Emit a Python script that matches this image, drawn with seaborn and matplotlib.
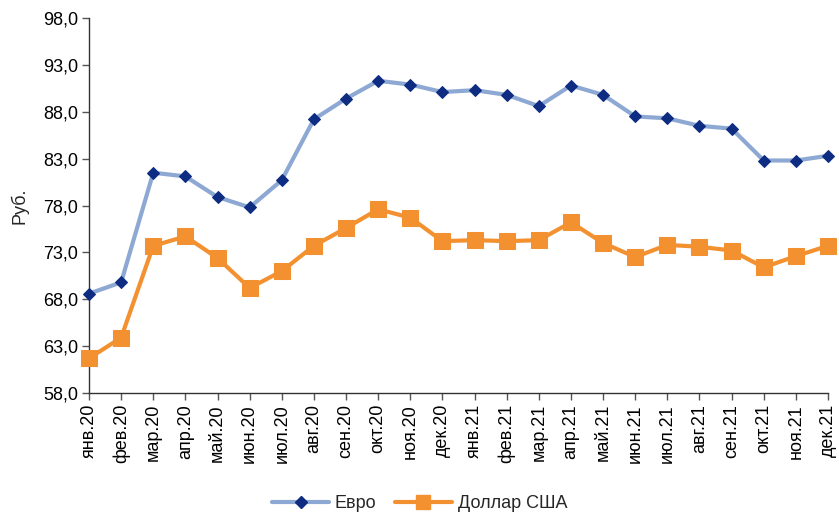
import matplotlib
matplotlib.use("Agg")
import matplotlib.pyplot as plt
import seaborn as sns
import pandas as pd
import numpy as np
from matplotlib import font_manager
from matplotlib.lines import Line2D

months = ["янв.20", "фев.20", "мар.20", "апр.20", "май.20", "июн.20", "июл.20", "авг.20",
          "сен.20", "окт.20", "ноя.20", "дек.20", "янв.21", "фев.21", "мар.21", "апр.21",
          "май.21", "июн.21", "июл.21", "авг.21", "сен.21", "окт.21", "ноя.21", "дек.21"]
euro = [68.6, 69.8, 81.5, 81.1, 78.9, 77.8, 80.7, 87.2, 89.4, 91.3, 90.9, 90.1,
        90.3, 89.8, 88.6, 90.8, 89.8, 87.5, 87.3, 86.5, 86.2, 82.8, 82.8, 83.3]
usd = [61.7, 63.9, 73.7, 74.7, 72.4, 69.2, 71.0, 73.7, 75.6, 77.6, 76.7, 74.2,
       74.3, 74.2, 74.3, 76.2, 74.0, 72.5, 73.8, 73.6, 73.2, 71.4, 72.6, 73.7]
yticks = [58, 63, 68, 73, 78, 83, 88, 93, 98]

sns.set_theme(style="ticks")
names = {f.name for f in font_manager.fontManager.ttflist}
fam = "Liberation Sans Narrow" if "Liberation Sans Narrow" in names else "Liberation Sans"
plt.rcParams['font.family'] = [fam, 'DejaVu Sans']

df = pd.DataFrame({"x": np.arange(len(months)), "euro": euro, "usd": usd})

fig = plt.figure(figsize=(8.39, 5.15), dpi=100)
ax = fig.add_axes([89/839, 1-393/515, (828-89)/839, (393-18)/515])

sns.lineplot(data=df, x="x", y="euro", ax=ax, color="#8DA8D3", linewidth=3.0,
             marker="D", markersize=6, markerfacecolor="#0D2C82", markeredgecolor="#0D2C82",
             label="Евро", clip_on=False, zorder=3)
sns.lineplot(data=df, x="x", y="usd", ax=ax, color="#F39131", linewidth=3.0,
             marker="s", markersize=12, markerfacecolor="#F39131", markeredgecolor="#F39131",
             label="Доллар США", clip_on=False, zorder=3)

ax.set_xlim(0, len(months)-1)
ax.set_ylim(58, 98)
ax.set_yticks(yticks)
ax.set_yticklabels([f"{v:.1f}".replace(".", ",") for v in yticks], fontsize=13, family=fam)
ax.set_xticks(range(len(months)))
ax.set_xticklabels(months, rotation=90, fontsize=13, family="Liberation Sans")
ax.set_xlabel("")
ax.set_ylabel("Руб.", fontsize=13, family="Liberation Sans", labelpad=10)
for s in ["top", "right"]:
    ax.spines[s].set_visible(False)
for s in ["left", "bottom"]:
    ax.spines[s].set_color("#333333")
    ax.spines[s].set_linewidth(1.0)
ax.tick_params(axis="both", direction="out", length=5, width=1, color="#555555", labelcolor="#000000", pad=3)
ax.grid(False)

ax.get_legend().remove()
l = ["Евро", "Доллар США"]
h = [Line2D([], [], color="#8DA8D3", lw=3.0, marker="D", markersize=6, markerfacecolor="#0D2C82", markeredgecolor="#0D2C82"),
     Line2D([], [], color="#F39131", lw=3.0, marker="s", markersize=10, markerfacecolor="#F39131", markeredgecolor="#F39131")]
fig.legend(h, l, loc="center", bbox_to_anchor=(0.50, 1-504/515), ncol=2, frameon=False,
           prop={"family": "Liberation Sans", "size": 13}, handlelength=3.2, columnspacing=1.0, handletextpad=0.3)

fig.savefig("out.png", dpi=100)
